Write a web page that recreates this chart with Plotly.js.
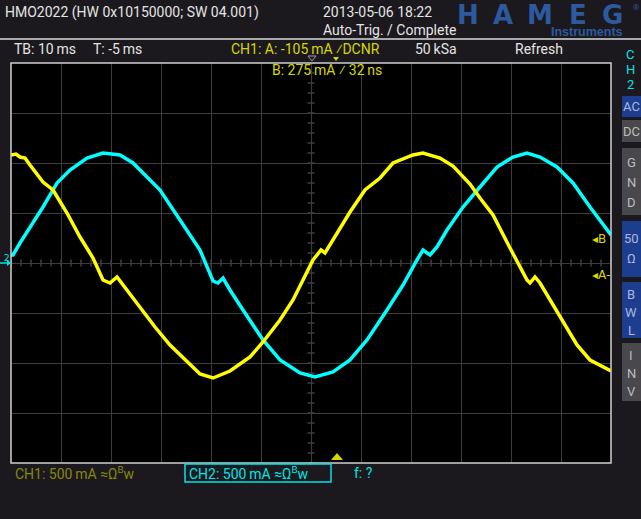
<!DOCTYPE html>
<html><head><meta charset="utf-8">
<script src="https://cdn.plot.ly/plotly-3.0.1.min.js"></script>
<style>html,body{margin:0;padding:0;background:#1b191d;overflow:hidden;}</style>
</head><body><div id="chart" style="width:641px;height:519px;"></div>
<script>
// CH1 (yellow) – time in ms, current in mA
const ch1Time = [-65,-64,-63.2,-62.2,-61.2,-58.6,-56.6,-53.8,-51.2,-48.6,-46.6,-45.2,-43.8,-43.2,-41.8,-39.2,-36.2,-33.2,-30.2,-27.2,-24.6,-21.2,-17.2,-14.6,-11.2,-8.6,-6.6,-4.6,-3.8,-3,-2.2,-1.2,2.8,5.8,8.8,11.4,15.4,17.4,20.8,23.4,26.8,28.8,31.4,34.8,36.8,38.2,38.8,39.8,40.8,42.8,45.4,48.2,50.8,52.8,55];
const ch1Current = [1080,1090,1060,1050,980,810,730,500,260,50,-170,-200,-140,-180,-270,-440,-640,-820,-970,-1110,-1150,-1080,-940,-790,-570,-370,-170,30,80,130,100,180,510,730,850,1000,1080,1100,1050,970,790,650,480,150,-40,-170,-200,-140,-200,-370,-590,-820,-970,-1020,-1080];
// CH2 (cyan)
const ch2Time = [-65,-64.6,-63.2,-61.2,-58.6,-55.8,-53.2,-49.8,-46.6,-43.2,-40.6,-37.8,-35.2,-31.2,-27.2,-24.6,-23.6,-22.6,-21.2,-18.6,-14.6,-11.2,-7.2,-4.2,-0.6,2.8,6.2,10.2,13.4,16.2,17.4,18.8,20.2,22.2,25.4,28.8,32.2,35.4,38.2,40.8,44.2,47.4,50.8,55];
const ch2Current = [80,80,200,350,560,800,930,1050,1100,1080,1000,860,730,430,130,-180,-200,-150,-270,-470,-770,-970,-1100,-1140,-1090,-970,-770,-470,-220,30,130,80,160,330,560,760,960,1060,1100,1060,960,800,560,280];

const xRange = [-65, 55];
const yRange = [-2000, 2000];
const xGridStart = -55, xDiv = 10, yDiv = 500;

// plot-area pixel frame
const L = 11, R = 611, T = 63, B = 463;
const PX = x => (x - L) / (R - L);
const PY = y => (B - y) / (B - T);

const WHITE = '#e4e4e4', YEL = '#d6d600', DIMYEL = '#87870f', CYAN = '#00e5e5';
const BLUE = '#1d3d8e', GRAY = '#49484c', LOGO = '#2d5a9e';

const annotations = [];
function txt(text, x, y, color, size, opts) {
  opts = opts || {};
  annotations.push(Object.assign({
    text: text, x: PX(x), y: PY(y), xref: 'paper', yref: 'paper',
    xanchor: 'left', yanchor: 'middle', showarrow: false,
    font: {family: 'Roboto, DejaVu Sans, sans-serif', size: size, color: color}
  }, opts));
  return annotations.length - 1;
}
txt('HMO2022 (HW 0x10150000; SW 04.001)', 3, 12, WHITE, 14);
txt('2013-05-06 18:22', 321, 12, WHITE, 14);
txt('Auto-Trig. / Complete', 321, 30, WHITE, 14);
txt('TB: 10\u2009ms', 12, 49, WHITE, 14);
txt('T: -5\u2009ms', 91, 49, WHITE, 14);
txt('CH1: A: -105\u2009mA \u2044DCNR', 229, 49, YEL, 14);
txt('50\u2009kSa', 413, 49, WHITE, 14);
txt('Refresh', 513, 49, WHITE, 14);
txt('B: 275\u2009mA \u2044 32\u2009ns', 270, 70, YEL, 14);
txt('CH1: 500\u2009mA \u2248\u03A9<sup>B</sup>w', 13, 473, DIMYEL, 14);
txt('CH2: 500\u2009mA \u2248\u03A9<sup>B</sup>w', 187, 473, CYAN, 14);
txt('f: ?', 352, 473, CYAN, 14);
// HAMEG logo
[['H',468],['A',503],['M',540],['E',578],['G',612]].forEach(([c,x]) => {
  txt('<b>' + c + '</b>', x, 15, LOGO, 26, {xanchor:'center',
    font: {family: 'DejaVu Sans', size: 26, color: LOGO, weight: 'bold'}});
});
txt('\u00AE', 631, 7, LOGO, 8);
txt('<b>Instruments</b>', 587, 32, LOGO, 12.5, {xanchor:'center',
  font: {family: 'Liberation Sans', size: 12.5, color: LOGO, weight: 'bold'}});
// right channel panel
[['C',55],['H',70],['2',84]].forEach(([c,y]) => txt(c, 630, y, CYAN, 13, {xanchor:'center'}));
const buttons = [
  {y0: 96, y1: 117, color: BLUE, lines: [['AC',106]]},
  {y0: 120, y1: 142, color: GRAY, lines: [['DC',131]]},
  {y0: 148, y1: 215, color: GRAY, lines: [['G',162],['N',182],['D',202]]},
  {y0: 221, y1: 277, color: BLUE, lines: [['50',238],['\u03A9',258]]},
  {y0: 282, y1: 338, color: BLUE, lines: [['B',294],['W',312],['L',330]]},
  {y0: 343, y1: 401, color: GRAY, lines: [['I',355],['N',373],['V',391]]}
];
const shapes = [];
buttons.forEach(b => {
  shapes.push({type:'rect', xref:'paper', yref:'paper', x0: PX(622), x1: PX(641), y0: PY(b.y1), y1: PY(b.y0), fillcolor: b.color, line:{width:0}, layer:'below'});
  b.lines.forEach(([c,y]) => txt(c, 631, y, b.color === BLUE ? '#a9b9e0' : '#bdbdbd', 13, {xanchor:'center'}));
});
// markers
txt('\u25C2B', 590, 239, YEL, 12, {font:{family:'DejaVu Sans', size:12, color:YEL}});
txt('\u25C2A-', 590, 275, YEL, 12, {font:{family:'DejaVu Sans', size:12, color:YEL}});
txt('2', 2, 258, CYAN, 9, {font:{family:'DejaVu Sans', size:9, color:CYAN}});

// header separator
shapes.push({type:'line', xref:'paper', yref:'paper', x0: PX(0), x1: PX(641), y0: PY(39), y1: PY(39), line:{color:'#a8a8a8', width:2}});
// plot border
shapes.push({type:'rect', xref:'paper', yref:'paper', x0:0, x1:1, y0:0, y1:1, line:{color:'#cfcfcf', width:1.5}, layer:'above'});
// CH2 label box
shapes.push({type:'rect', xref:'paper', yref:'paper', x0: PX(185), x1: PX(331), y0: PY(482), y1: PY(464), line:{color:CYAN, width:1.5}});
// trigger markers
function tri(pts, fill, line) {
  let p = 'M' + pts.map(([x,y]) => PX(x)+','+PY(y)).join(' L') + ' Z';
  shapes.push({type:'path', xref:'paper', yref:'paper', path: p, fillcolor: fill, line: line});
}
tri([[308,56],[316,56],[312,61]], 'rgba(0,0,0,0)', {color:'#9a9a9a', width:1});
tri([[333,57],[339,57],[336,61]], YEL, {width:0});
tri([[331,460],[343,460],[337,453]], YEL, {width:0});
// ground arrow CH2
shapes.push({type:'line', xref:'paper', yref:'paper', x0: PX(0), x1: PX(10), y0: PY(263), y1: PY(263), line:{color:CYAN, width:1.5}});
tri([[7,260],[11,263],[7,266]], CYAN, {width:0});
// centre-line minor ticks
for (let t = xRange[0]; t <= xRange[1] + 1e-9; t += 2) {
  shapes.push({type:'line', xref:'x', yref:'y', x0:t, x1:t, y0:-35, y1:35, line:{color:'#5e5e5e', width:1}, layer:'below'});
}
for (let v = yRange[0]; v <= yRange[1] + 1e-9; v += 100) {
  shapes.push({type:'line', xref:'x', yref:'y', x0:-5.7, x1:-4.3, y0:v, y1:v, line:{color:'#5e5e5e', width:1}, layer:'below'});
}

const traces = [
  {x: ch2Time, y: ch2Current, mode:'lines', line:{color:'#00ffff', width:3.5}, name:'CH2', hoverinfo:'skip'},
  {x: ch1Time, y: ch1Current, mode:'lines', line:{color:'#ffff00', width:3.5}, name:'CH1', hoverinfo:'skip'}
];

const layout = {
  width: 641, height: 519,
  margin: {l: L, r: 641 - R, t: T, b: 519 - B, pad: 0},
  paper_bgcolor: '#1b191d', plot_bgcolor: '#000000',
  showlegend: false,
  xaxis: {range: xRange, tick0: xGridStart, dtick: xDiv, showticklabels: false, ticks: '', showgrid: true, gridcolor: '#3d3d3d', gridwidth: 1, zeroline: false, showline: false, fixedrange: true},
  yaxis: {range: yRange, tick0: 0, dtick: yDiv, showticklabels: false, ticks: '', showgrid: true, gridcolor: '#3d3d3d', gridwidth: 1, zeroline: false, showline: false, fixedrange: true},
  annotations: annotations,
  shapes: shapes
};
Plotly.newPlot('chart', traces, layout, {staticPlot: true, displayModeBar: false});
</script></body></html>
